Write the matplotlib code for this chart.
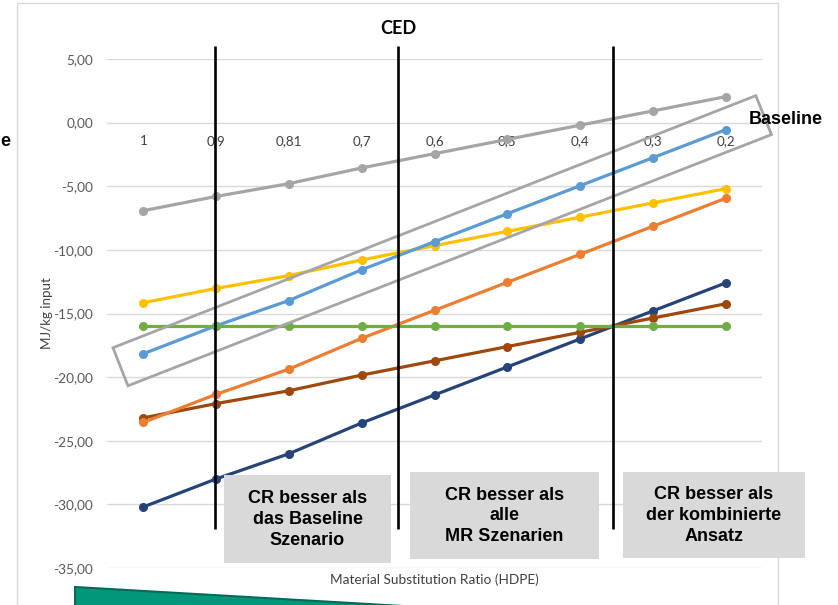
import numpy as np
import matplotlib
matplotlib.use("Agg")
import matplotlib.pyplot as plt
from matplotlib.patches import Polygon, Rectangle

# substitution ratios on the category axis
ratios = ["1", "0,9", "0,81", "0,7", "0,6", "0,5", "0,4", "0,3", "0,2"]

# MJ/kg input per scenario
grey_vals = [-6.92, -5.80, -4.79, -3.56, -2.44, -1.32, -0.20, 0.92, 2.04]
blue_vals = [-18.16, -15.96, -13.98, -11.56, -9.36, -7.16, -4.96, -2.76, -0.56]
yellow_vals = [-14.15, -13.03, -12.02, -10.79, -9.67, -8.55, -7.43, -6.31, -5.19]
green_vals = [-15.96, -15.96, -15.96, -15.96, -15.96, -15.96, -15.96, -15.96, -15.96]
orange_vals = [-23.55, -21.35, -19.37, -16.95, -14.75, -12.55, -10.35, -8.15, -5.95]
brown_vals = [-23.20, -22.08, -21.07, -19.84, -18.72, -17.60, -16.48, -15.36, -14.24]
navy_vals = [-30.20, -28.00, -26.02, -23.60, -21.40, -19.20, -17.00, -14.80, -12.60]

yticks = [5, 0, -5, -10, -15, -20, -25, -30, -35]

box_texts = [
    "CR besser als\ndas Baseline\nSzenario",
    "CR besser als\nalle\nMR Szenarien",
    "CR besser als\nder kombinierte\nAnsatz",
]

W, H = 838, 605


def fx(px):
    return px / W


def fy(py):
    return 1 - py / H


fig = plt.figure(figsize=(W / 100, H / 100), dpi=100)
fig.patch.set_facecolor("white")

# light chart frame
fig.patches.append(Rectangle((fx(17), fy(640)), fx(778) - fx(17), fy(3) - fy(640),
                             transform=fig.transFigure, fill=False,
                             edgecolor="#d9d9d9", linewidth=1.0, zorder=0))

ax = fig.add_axes([fx(107), fy(568), fx(762) - fx(107), fy(59) - fy(568)])
ax.set_xlim(-0.5, len(ratios) - 0.5)
ax.set_ylim(-35, 5)

x = np.arange(len(ratios))
series = [
    (navy_vals, "#264478"),
    (brown_vals, "#9e480e"),
    (orange_vals, "#ed7d31"),
    (yellow_vals, "#ffc000"),
    (blue_vals, "#5b9bd5"),
    (grey_vals, "#a5a5a5"),
    (green_vals, "#70ad47"),
]
for vals, col in series:
    ax.plot(x, vals, "-o", color=col, lw=2.3, ms=5.5, zorder=3)

for s in ax.spines.values():
    s.set_visible(False)
ax.set_yticks(yticks)
ax.set_yticklabels([f"{v:.2f}".replace(".", ",") for v in yticks],
                   fontsize=9.8, color="#595959", family="Lato")
ax.yaxis.grid(True, color="#d9d9d9", lw=1.0)
ax.set_axisbelow(True)
ax.tick_params(axis="y", length=0, pad=10)

# category labels sit on the zero line
ax.spines["bottom"].set_position(("data", 0))
ax.set_xticks(x)
ax.set_xticklabels(ratios, fontsize=9.6, color="#404040", family="Lato")
ax.tick_params(axis="x", length=0, pad=9)

fig.text(fx(47), fy(313), "MJ/kg input", rotation=90, ha="center", va="center",
         fontsize=9.6, color="#404040", family="Lato")
fig.text(fx(434), fy(580), "Material Substitution Ratio (HDPE)", ha="center",
         va="center", fontsize=9.8, color="#404040", family="Lato")

# region dividers
for xi in [0.98, 3.5, 6.45]:
    ax.plot([xi, xi], [6.05, -31.9], color="black", lw=1.9, zorder=5,
            clip_on=False, solid_capstyle="butt")

# tilted frame around the baseline-parallel band
ax.add_patch(Polygon([(-0.212, -20.68), (-0.418, -17.69), (8.415, 2.12), (8.63, -0.94)],
                     closed=True, fill=False, edgecolor="#a5a5a5", lw=2.0,
                     zorder=4, clip_on=False))

fig.text(fx(398), fy(28), "CED", ha="center", va="center", fontsize=13,
         fontweight="bold", family="Lato")
fig.text(fx(786), fy(120), "Baseline", ha="center", va="center", fontsize=13,
         fontweight="bold", family="Liberation Sans")
fig.text(fx(0.5), fy(141), "e", ha="left", va="center", fontsize=13,
         fontweight="bold", family="Liberation Sans")

# grey annotation boxes
boxes = [(224, 475, 391, 563), (410, 472, 599, 559), (623, 472, 805, 558)]
for (x0, y0, x1, y1), txt in zip(boxes, box_texts):
    fig.patches.append(Rectangle((fx(x0), fy(y1)), fx(x1) - fx(x0), fy(y0) - fy(y1),
                                 transform=fig.transFigure, facecolor="#d9d9d9",
                                 edgecolor="none", zorder=6))
    fig.text(fx((x0 + x1) / 2), fy((y0 + y1) / 2 + 0.5), txt, ha="center",
             va="center", fontsize=13, fontweight="bold", linespacing=1.27,
             family="Liberation Sans", color="black", zorder=7)

# teal arrow shape entering from the bottom edge
fig.patches.append(Polygon([(fx(75), fy(587)), (fx(420), fy(607)), (fx(420), fy(640)),
                            (fx(75), fy(640))], closed=True, transform=fig.transFigure,
                           facecolor="#00977b", edgecolor="#006b57", lw=1.5, zorder=6))

fig.savefig("out.png", dpi=100, facecolor="white")
